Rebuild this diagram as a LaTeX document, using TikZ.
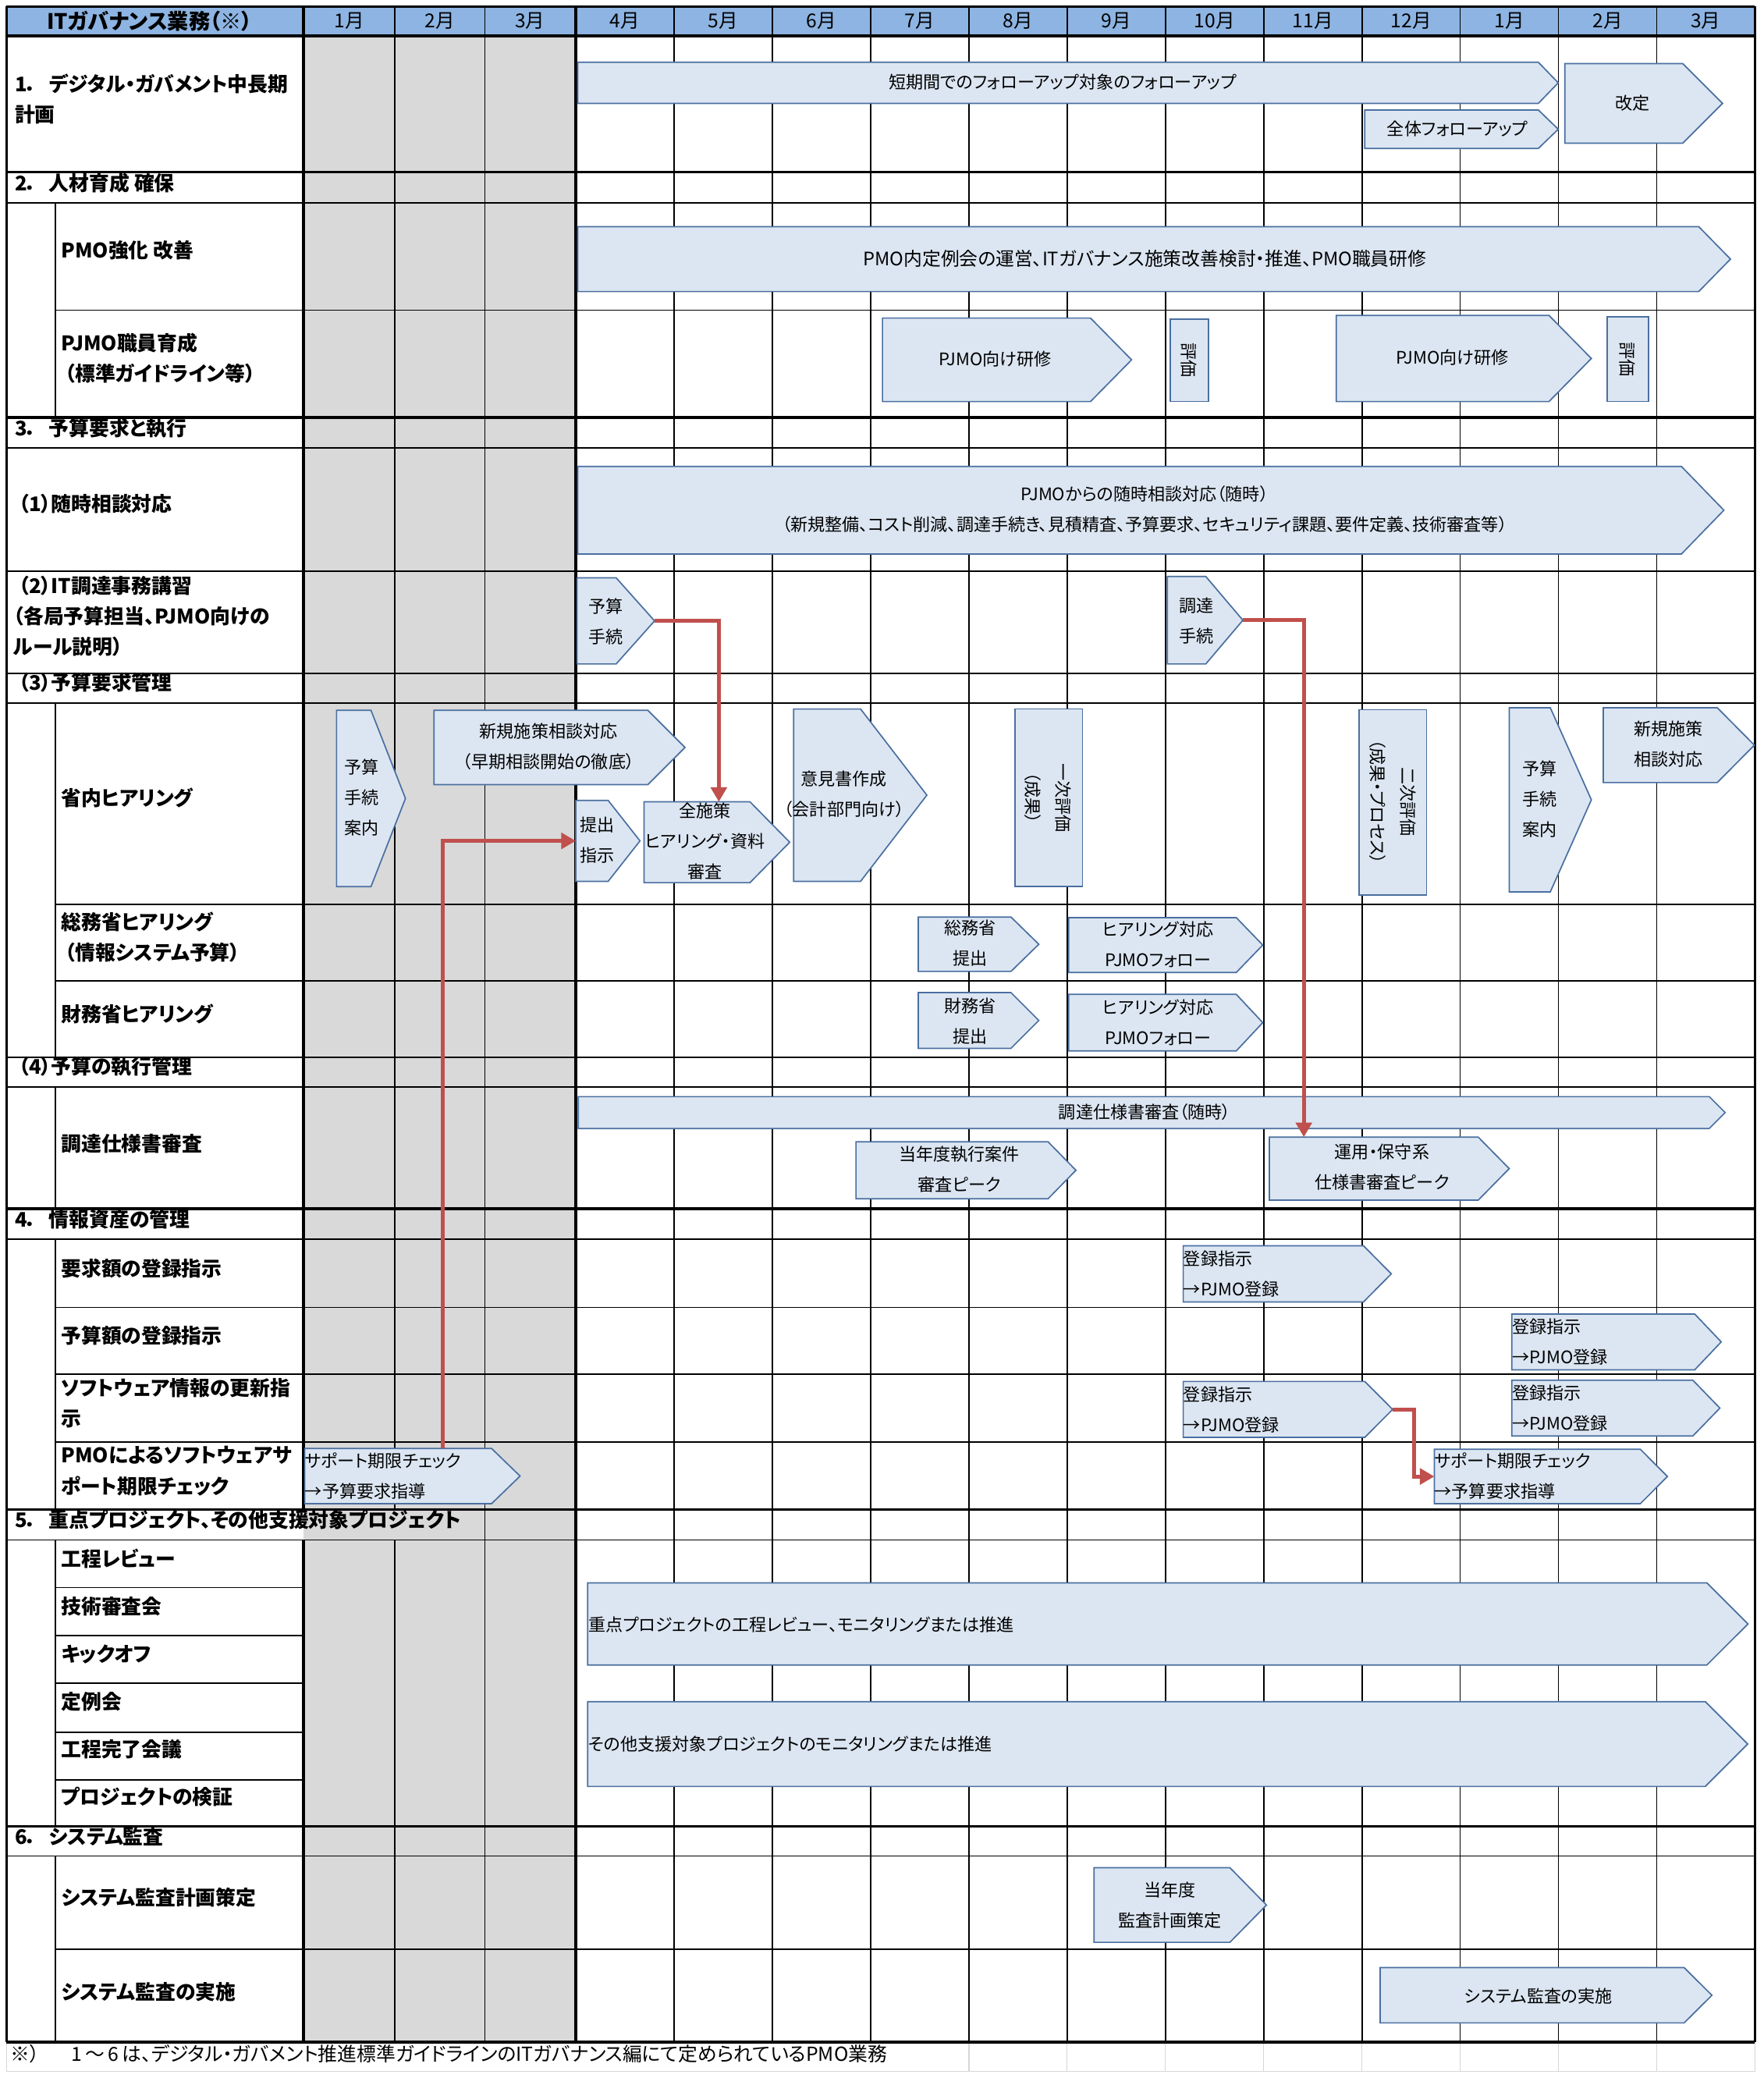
\documentclass[tikz,border=0pt]{standalone}
\usepackage{fontspec}
\setmainfont{Noto Sans CJK JP}[RawFeature=+palt]
\usetikzlibrary{arrows.meta}
\definecolor{hdr}{HTML}{8DB4E2}
\definecolor{grayc}{HTML}{D9D9D9}
\definecolor{barfill}{HTML}{DCE6F2}
\definecolor{barline}{HTML}{4A6FA0}
\definecolor{redc}{HTML}{C0504D}
\definecolor{faint}{HTML}{D6D6D6}
\newcommand{\hpbar}[6]{%
  \draw[bar] (#2,#3) -- ({#4-#6},#3) -- (#4,{(#3+#5)/2}) -- ({#4-#6},#5) -- (#2,#5) -- cycle;
  \coordinate (#1-w) at (#2,{(#3+#5)/2});
  \coordinate (#1-e) at (#4,{(#3+#5)/2});
}
\newcommand{\secno}[1]{#1．\hspace{9pt}}
\begin{document}
\begin{tikzpicture}[x=1pt,y=-1pt,
  thinl/.style={line width=1pt, black},
  thickl/.style={line width=2pt, black},
  faintl/.style={line width=0.8pt, faint},
  bar/.style={fill=barfill, draw=barline, line width=1pt, line join=miter},
  btx/.style={inner sep=0pt, align=center, font=\fontsize{13}{23}\selectfont},
  btxl/.style={btx, anchor=west, align=left},
  lbl/.style={inner sep=0pt, anchor=west, align=left, font=\fontsize{15.2}{23}\selectfont\bfseries},
  mon/.style={inner sep=0pt, font=\fontsize{14.5}{16}\selectfont},
  redarrow/.style={draw=redc, line width=2.8pt, -{Triangle[length=11pt,width=12pt]}, line join=miter}
]
\useasboundingbox (0,0) rectangle (1331,1568);
\fill[white] (0,0) rectangle (1331,1568);
% backgrounds
\fill[hdr] (5,5) rectangle (1324.5,27);
\fill[grayc] (229,27) rectangle (434.5,1541);
% faint spreadsheet gridlines below table
\draw[faintl] (5,1541) -- (5,1563) -- (1324.5,1563);
\foreach \x in {731.2,805.3,879.5,953.7,1027.9,1102,1176.2,1250.4,1324.5}
  \draw[faintl] (\x,1541) -- (\x,1563);
% horizontal lines
\foreach \y in {153,338,431,508,530.5,798,820,935,1162,1400.5}
  \draw[thinl] (5,\y) -- (1324.5,\y);
\foreach \y in {234,682.5,740,986.5,1037,1088,1471}
  \draw[thinl] (42,\y) -- (1324.5,\y);
\foreach \y in {1198,1234,1270,1307,1343}
  \draw[thinl] (42,\y) -- (229,\y);
\foreach \a/\b in {153/315,530.5/798,820/912,935/1139,1162/1378,1400.5/1541}
  \draw[thinl] (42,\a) -- (42,\b);
% vertical lines
\foreach \x in {366,508.7,582.8,657,731.2,805.3,879.5,953.7,1027.9,1102,1176.2,1250.4}
  \draw[thinl] (\x,5) -- (\x,1541);
\draw[thinl] (298,5) -- (298,1139) (298,1162) -- (298,1541);
\foreach \y in {5,27,130,315,912,1139,1378,1541}
  \draw[thickl] (5,\y) -- (1324.5,\y);
\foreach \x in {5,434.5,1324.5}
  \draw[thickl] (\x,5) -- (\x,1541);
\draw[thickl] (229,5) -- (229,1139) (229,1162) -- (229,1541);

% header texts
\node[lbl, anchor=center, font=\fontsize{16}{23}\selectfont\bfseries] (h0) at (113,16) {ITガバナンス業務（※）};
\foreach \x/\m [count=\i] in {263.5/1月,332/2月,400/3月,471.6/4月,545.7/5月,619.9/6月,694.1/7月,768.2/8月,842.4/9月,916.6/10月,990.8/11月,1065/12月,1139.1/1月,1213.3/2月,1287.4/3月}
  \node[mon] (m\i) at (\x,16) {\m};

% row labels
\node[lbl] (L1) at (11,74.5) {\secno{1}デジタル・ガバメント中長期\\計画};
\node[lbl] (L2) at (11,138) {\secno{2}人材育成 確保};
\node[lbl] (L3) at (46,189) {PMO強化 改善};
\node[lbl] (L4) at (46,270.5) {PJMO職員育成\\\hspace{3pt}（標準ガイドライン等）};
\node[lbl] (L5) at (11,323) {\secno{3}予算要求と執行};
\node[lbl] (L6) at (14,380) {（1）随時相談対応};
\node[lbl] (L7) at (10,465) {\hspace{4pt}（2）IT調達事務講習\\（各局予算担当、PJMO向けの\\ルール説明）};
\node[lbl] (L8) at (14,515) {（3）予算要求管理};
\node[lbl] (L9) at (46,602) {省内ヒアリング};
\node[lbl] (L10) at (46,707) {総務省ヒアリング\\\hspace{3pt}（情報システム予算）};
\node[lbl] (L11) at (46,765) {財務省ヒアリング};
\node[lbl] (L12) at (14,805) {（4）予算の執行管理};
\node[lbl] (L13) at (46,863) {調達仕様書審査};
\node[lbl] (L14) at (11,920) {\secno{4}情報資産の管理};
\node[lbl] (L15) at (46,957) {要求額の登録指示};
\node[lbl] (L16) at (46,1008) {予算額の登録指示};
\node[lbl] (L17) at (46,1059) {ソフトウェア情報の更新指\\示};
\node[lbl] (L18) at (46,1110) {PMOによるソフトウェアサ\\ポート期限チェック};
\node[lbl] (L19) at (11,1147) {\secno{5}重点プロジェクト、その他支援対象プロジェクト};
\node[lbl] (L20) at (46,1176) {工程レビュー};
\node[lbl] (L21) at (46,1212) {技術審査会};
\node[lbl] (L22) at (46,1248) {キックオフ};
\node[lbl] (L23) at (46,1284) {定例会};
\node[lbl] (L24) at (46,1320) {工程完了会議};
\node[lbl] (L25) at (46,1356) {プロジェクトの検証};
\node[lbl] (L26) at (11,1386) {\secno{6}システム監査};
\node[lbl] (L27) at (46,1432) {システム監査計画策定};
\node[lbl] (L28) at (46,1503) {システム監査の実施};
\node[inner sep=0pt, anchor=west, font=\fontsize{14.6}{16}\selectfont] (fn) at (8,1550)
  {※）\hspace{24pt}1\,～\,6\,は、デジタル・ガバメント推進標準ガイドラインのITガバナンス編にて定められているPMO業務};

% bars
\hpbar{b1}{436}{47}{1176}{78}{15}
\hpbar{b2}{1030}{83}{1176}{112}{15}
\hpbar{b3}{1181}{48}{1300}{108}{30}
\hpbar{b4}{436}{171}{1306}{220}{24}
\hpbar{b5}{666}{240}{854}{303}{31}
\draw[bar] (883,241) rectangle (912,303);
\hpbar{b6}{1008.5}{238}{1201}{303}{32}
\draw[bar] (1213,239) rectangle (1244,303);
\hpbar{b7}{436}{352}{1301}{418}{32}
\hpbar{b8}{435.5}{436}{494}{501}{29}
\hpbar{b9}{881}{435}{938}{501}{28}
\hpbar{b10}{254}{536}{306}{669}{26}
\hpbar{b11}{327.5}{536}{517}{592}{28}
\hpbar{b12}{434.5}{604}{483}{665}{24}
\hpbar{b13}{486}{605}{596}{666}{30}
\hpbar{b14}{599}{535}{699.5}{665}{50}
\draw[bar] (766,535) rectangle (817,669);
\draw[bar] (1025.7,535.6) rectangle (1076.6,675.3);
\hpbar{b15}{1139}{534}{1201}{673}{31}
\hpbar{b16}{1210}{534}{1324}{590.5}{28}
\hpbar{b17}{693}{692}{784}{733}{21}
\hpbar{b18}{806.5}{692.4}{953}{733.8}{20}
\hpbar{b19}{693}{749}{784}{791}{21}
\hpbar{b20}{806.5}{750.3}{953}{793}{20}
\hpbar{b21}{436.5}{827.5}{1302}{851.5}{12}
\hpbar{b22}{646}{861.6}{812}{904.5}{21}
\hpbar{b23}{958}{858}{1139}{905.6}{23.4}
\hpbar{b24}{893}{940}{1050}{982.4}{21}
\hpbar{b25}{1141}{991.5}{1299}{1033.6}{20}
\hpbar{b26}{893}{1042.4}{1051}{1084.6}{21}
\hpbar{b27}{1141}{1041.4}{1298}{1083.6}{20.5}
\hpbar{b28}{230}{1093}{392.5}{1134.6}{21.5}
\hpbar{b29}{1082.5}{1093.6}{1258.4}{1134.6}{20.4}
\hpbar{b30}{443.5}{1194.4}{1319.2}{1256.3}{31}
\hpbar{b31}{443.5}{1284}{1319}{1348}{32}
\hpbar{b32}{825.7}{1409.3}{955.8}{1465.6}{27.6}
\hpbar{b33}{1041.6}{1484.7}{1292}{1526.4}{21}

% bar texts
\node[btx] (t1) at (802,62) {短期間でのフォローアップ対象のフォローアップ};
\node[btx] (t2) at (1100,97) {全体フォローアップ};
\node[btx] (t3) at (1232,78) {改定};
\node[btx, font=\fontsize{14}{23}\selectfont] (t4) at (864,195) {PMO内定例会の運営、ITガバナンス施策改善検討・推進、PMO職員研修};
\node[btx] (t5) at (751,271) {PJMO向け研修};
\node[btx, rotate=-90] (t6) at (897,272) {評価};
\node[btx] (t7) at (1096,270) {PJMO向け研修};
\node[btx, rotate=-90] (t8) at (1228,271) {評価};
\node[btx] (t9) at (864,384.5) {PJMOからの随時相談対応（随時）\\（新規整備、コスト削減、調達手続き、見積精査、予算要求、セキュリティ課題、要件定義、技術審査等）};
\node[btx] (t10) at (457,469) {予算\\手続};
\node[btx] (t11) at (903,468.5) {調達\\手続};
\node[btx] (t12) at (273,602) {予算\\手続\\案内};
\node[btx] (t13) at (414,563.5) {新規施策相談対応\\（早期相談開始の徹底）};
\node[btx] (t14) at (451,634) {提出\\指示};
\node[btx] (t15) at (532,635) {全施策\\ヒアリング・資料\\審査};
\node[btx] (t16) at (637,599.5) {意見書作成\\（会計部門向け）};
\node[btx, rotate=-90] (t17) at (791,602) {一次評価\\（成果）};
\node[btx, rotate=-90] (t18) at (1051,605) {二次評価\\（成果・プロセス）};
\node[btx] (t19) at (1162,603) {予算\\手続\\案内};
\node[btx] (t20) at (1259,561.5) {新規施策\\相談対応};
\node[btx] (t21) at (732,711.5) {総務省\\提出};
\node[btx] (t22) at (874,712.5) {ヒアリング対応\\PJMOフォロー};
\node[btx] (t23) at (732,770.5) {財務省\\提出};
\node[btx] (t24) at (874,771.5) {ヒアリング対応\\PJMOフォロー};
\node[btx] (t25) at (864,839) {調達仕様書審査（随時）};
\node[btx] (t26) at (724,882.5) {当年度執行案件\\審査ピーク};
\node[btx] (t27) at (1043,880.5) {運用・保守系\\仕様書審査ピーク};
\node[btxl] (t28) at (893,961.5) {登録指示\\→PJMO登録};
\node[btxl] (t29) at (1141,1012.5) {登録指示\\→PJMO登録};
\node[btxl] (t30) at (893,1063.5) {登録指示\\→PJMO登録};
\node[btxl] (t31) at (1141,1062.5) {登録指示\\→PJMO登録};
\node[btxl] (t32) at (230,1113.5) {サポート期限チェック\\→予算要求指導};
\node[btxl] (t33) at (1082.5,1114) {サポート期限チェック\\→予算要求指導};
\node[btxl] (t34) at (444,1226) {重点プロジェクトの工程レビュー、モニタリングまたは推進};
\node[btxl] (t35) at (444,1316) {その他支援対象プロジェクトのモニタリングまたは推進};
\node[btx] (t36) at (883,1437.5) {当年度\\監査計画策定};
\node[btx] (t37) at (1161,1506) {システム監査の実施};

% red connectors
\coordinate (a1end) at (542.5,605);
\coordinate (a2end) at (984,858);
\coordinate (a3start) at (334,1093);
\draw[redarrow] (b8-e) -| (a1end);
\draw[redarrow] (b9-e) -| (a2end);
\draw[redarrow] (a3start) |- (b12-w);
\draw[redarrow] (b26-e) -- ++(16,0) |- (b29-w);
\end{tikzpicture}
\end{document}
